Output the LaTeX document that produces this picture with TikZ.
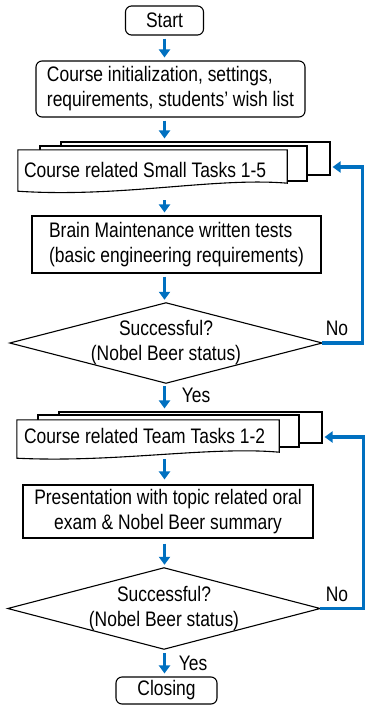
\documentclass[tikz,border=0pt]{standalone}
\usepackage{fontspec}
\setmainfont{Liberation Sans}[FakeStretch=0.83]
\usetikzlibrary{arrows.meta,backgrounds}
\definecolor{flowblue}{RGB}{0,112,192}
\begin{document}
\begin{tikzpicture}[x=1pt,y=-1pt,
  every node/.style={font=\fontsize{21}{25}\selectfont},
  boxsty/.style={draw, line width=1.1pt, fill=white, inner sep=0pt, align=center},
  rboxsty/.style={boxsty, rounded corners=6pt},
  layersty/.style={draw, line width=1.1pt, fill=white, inner sep=0pt},
  txtsty/.style={inner sep=0pt, align=center},
  lbl/.style={inner sep=0pt},
  flow/.style={draw=flowblue, line width=3.5pt, -{Triangle[length=8pt,width=11pt]}, shorten <=3pt, shorten >=3pt},
  loopsty/.style={draw=flowblue, line width=3.3pt, -{Triangle[length=8pt,width=11pt]}, shorten >=2pt}
]
\useasboundingbox (0,0) rectangle (365,707);

% main nodes
\node[rboxsty, minimum width=78pt, minimum height=29pt] (start) at (164.5,20.5) {Start};
\node[rboxsty, minimum width=269pt, minimum height=56pt, align=left] (init) at (170.5,89)
  {Course initialization, settings,\\requirements, students’ wish list};

\node[inner ysep=0pt, inner xsep=6pt, minimum width=269pt, minimum height=40pt] (sf) at (152.5,170)
  {\makebox[257pt][l]{Course related Small Tasks 1-5}};

\node[boxsty, minimum width=289pt, minimum height=57pt, align=left] (brain) at (176.5,244.5)
  {Brain Maintenance written tests\\(basic engineering requirements)};

\node[txtsty, minimum width=312pt, minimum height=80pt] (d1) at (166,343)
  {Successful?\\(Nobel Beer status)};

\node[inner ysep=0pt, inner xsep=7pt, minimum width=262pt, minimum height=32pt] (tf) at (148,436)
  {\makebox[248pt][l]{Course related Team Tasks 1-2}};

\node[boxsty, minimum width=290pt, minimum height=53pt] (pres) at (168,511.5)
  {Presentation with topic related oral\\exam \& Nobel Beer summary};

\node[txtsty, minimum width=312pt, minimum height=81pt] (d2) at (164,608.5)
  {Successful?\\(Nobel Beer status)};

\node[rboxsty, minimum width=101pt, minimum height=27pt] (closing) at (166.5,690.5) {Closing};

% stacked document layers and diamonds
\begin{pgfonlayer}{background}
  \node[layersty, minimum width=269pt, minimum height=33pt] (sb) at (195.5,158.5) {};
  \node[layersty, minimum width=267pt, minimum height=35pt] (sm) at (173.5,163.5) {};
  \filldraw[fill=white, line width=1.1pt] (sf.north west) -- (sf.north east) -- ([yshift=7pt]sf.south east)
    .. controls (215,177) and (120,198) .. ([yshift=-1pt]sf.south west) -- cycle;

  \node[layersty, minimum width=263pt, minimum height=31pt] (tb) at (190.5,427.5) {};
  \node[layersty, minimum width=261pt, minimum height=32pt] (tm) at (168.5,431) {};
  \filldraw[fill=white, line width=1.1pt] (tf.north west) -- (tf.north east) -- (tf.south east)
    .. controls (210,446) and (115,463) .. ([yshift=-6pt]tf.south west) -- cycle;

  \draw[line width=1.1pt] (d1.north) -- (d1.east) -- (d1.south) -- (d1.west) -- cycle;
  \draw[line width=1.1pt] (d2.north) -- (d2.east) -- (d2.south) -- (d2.west) -- cycle;
\end{pgfonlayer}

% labels
\node[lbl] (no1) at (337,328) {No};
\node[lbl] (yes1) at (196,395) {Yes};
\node[lbl] (no2) at (337,594) {No};
\node[lbl] (yes2) at (193,663) {Yes};

% connectors
\draw[flow] (start.south) -- (start.south |- init.north);
\draw[flow] (start.south |- init.south) -- (start.south |- sb.north);
\draw[flow, shorten <=10pt] (start.south |- sf.south) -- (start.south |- brain.north);
\draw[flow] (start.south |- brain.south) -- (start.south |- d1.north);
\draw[flow] (start.south |- d1.south) -- (start.south |- tb.north);
\draw[flow, shorten <=7pt, shorten >=5pt] (start.south |- tf.south) -- (start.south |- pres.north);
\draw[flow, shorten <=5pt] (start.south |- pres.south) -- (start.south |- d2.north);
\draw[flow, shorten <=4pt] (start.south |- d2.south) -- (start.south |- closing.north);

\draw[loopsty] (d1.east) -- ++(40,0) |- ([yshift=-8.5pt]sb.east);
\draw[loopsty] (d2.east) -- ++(43,0) |- ([yshift=-9.5pt]tb.east);
\end{tikzpicture}
\end{document}
